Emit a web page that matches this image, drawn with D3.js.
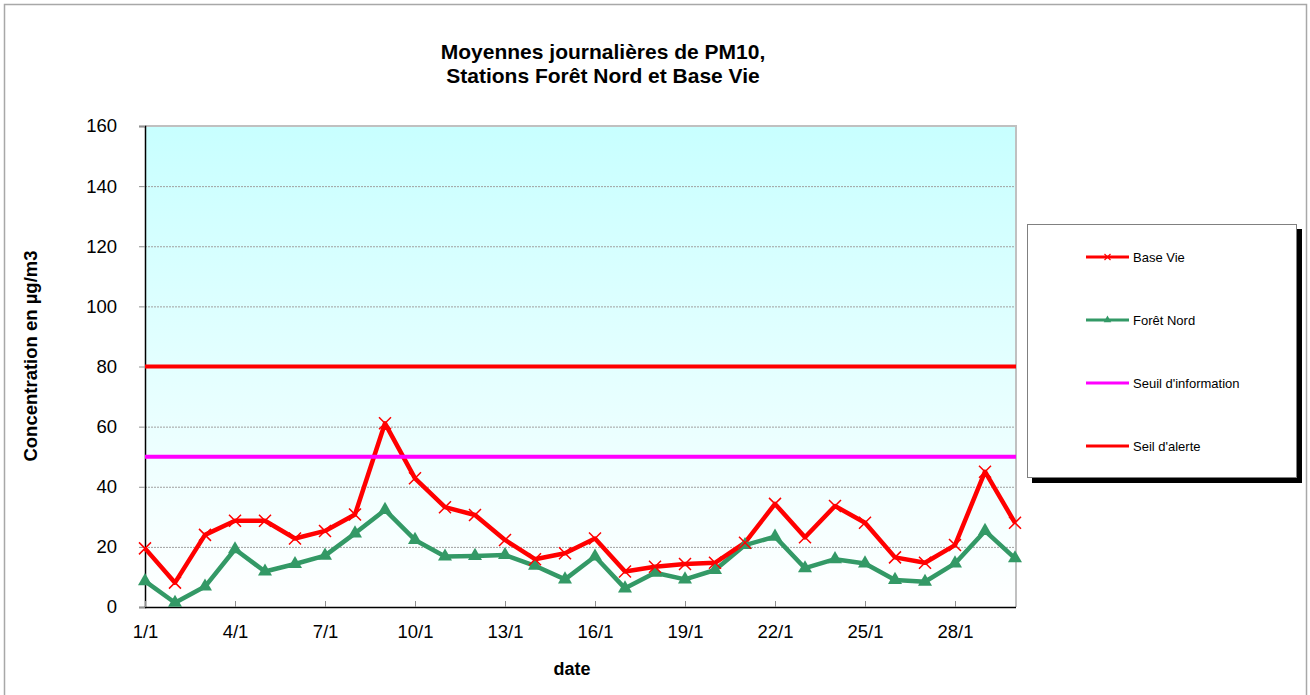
<!DOCTYPE html>
<html>
<head>
<meta charset="utf-8">
<script src="https://cdn.jsdelivr.net/npm/d3@7"></script>
<style>
html,body{margin:0;padding:0;background:#fff;}
svg{display:block;font-family:"Liberation Sans",Arial,sans-serif;}
</style>
</head>
<body>
<svg id="chart" width="1310" height="695"></svg>
<script>
const days = [1,2,3,4,5,6,7,8,9,10,11,12,13,14,15,16,17,18,19,20,21,22,23,24,25,26,27,28,29,30];
const baseVie = [19.5,8.1,24,28.7,28.7,22.8,25.3,30.8,61.1,42.8,33.2,30.6,22.3,15.9,17.9,22.8,11.8,13.4,14.3,14.7,21.4,34.3,23.2,33.6,28,16.5,14.7,20.6,45,28];
const foretNord = [8.6,1.4,6.8,19.2,11.8,14.3,17.1,24.5,32.3,22.3,16.8,17,17.3,13.7,9.2,16.8,6.2,11.4,9.2,12.3,20.6,23.4,12.9,15.9,14.5,9,8.4,14.5,25.3,16.2];
const seuilInformation = 50;
const seuilAlerte = 80;
const xTickDays = [1,4,7,10,13,16,19,22,25,28];
const xTickLabels = ["1/1","4/1","7/1","10/1","13/1","16/1","19/1","22/1","25/1","28/1"];
const yTicks = [0,20,40,60,80,100,120,140,160];
const titleLines = ["Moyennes journalières de PM10,","Stations Forêt Nord et Base Vie"];
const legendLabels = ["Base Vie","Forêt Nord","Seuil d'information","Seil d'alerte"];

const svg = d3.select("#chart");
const L = 145, R = 1016, T = 126, B = 607;
const x = d3.scaleLinear().domain([1,30]).range([145,1015]);
const y = d3.scaleLinear().domain([0,160]).range([B,T]);

const RED = "#FF0000", GREEN = "#339966", MAG = "#FF00FF";

// outer border
svg.append("rect").attr("x",4.5).attr("y",4.5).attr("width",1302).attr("height",710)
  .attr("fill","#fff").attr("stroke","#a8a8a8").attr("stroke-width",1.5);

// gradient
const defs = svg.append("defs");
const grad = defs.append("linearGradient").attr("id","bg").attr("x1",0).attr("y1",0).attr("x2",0).attr("y2",1);
grad.append("stop").attr("offset","0%").attr("stop-color","#C8FFFF");
grad.append("stop").attr("offset","100%").attr("stop-color","#FFFFFF");

svg.append("rect").attr("x",L).attr("y",T).attr("width",R-L).attr("height",B-T).attr("fill","url(#bg)");

// grid lines
svg.append("g").selectAll("line").data(yTicks.filter(v=>v>0 && v<160)).join("line")
  .attr("x1",L).attr("x2",R).attr("y1",d=>y(d)+0.5).attr("y2",d=>y(d)+0.5)
  .attr("stroke","#a0a0a0").attr("stroke-width",1).attr("stroke-dasharray","2,1");

// plot border top/right
svg.append("path").attr("d",`M${L},${T} H${R} V${B}`).attr("fill","none")
  .attr("stroke","#c0c0c0").attr("stroke-width",2);

// y axis
const yAxis = d3.axisLeft(y).tickValues(yTicks).tickSize(6).tickPadding(22).tickFormat(d3.format("d"));
const gy = svg.append("g").attr("transform",`translate(${L},0)`).call(yAxis);
gy.select(".domain").attr("stroke","#000").attr("stroke-width",1.5);
gy.selectAll(".tick line").attr("stroke","#909090");
gy.selectAll(".tick text").attr("font-size","18.5px").attr("fill","#000")
  .attr("font-family","'Liberation Sans',Arial,sans-serif");

// x axis
const xAxis = d3.axisBottom(x).tickValues(xTickDays).tickSize(-6).tickPadding(18)
  .tickFormat((d,i)=>xTickLabels[i]);
const gx = svg.append("g").attr("transform",`translate(0,${B})`).call(xAxis);
gx.select(".domain").attr("d",`M${L},0.5H${R}`).attr("stroke","#000").attr("stroke-width",1.5);
gx.selectAll(".tick line").attr("stroke","#909090");
gx.selectAll(".tick text").attr("font-size","18.5px").attr("fill","#000")
  .attr("font-family","'Liberation Sans',Arial,sans-serif");

// series
const line = d3.line().x((d,i)=>x(days[i])).y(d=>y(d));
svg.append("path").datum(foretNord).attr("d",line).attr("fill","none")
  .attr("stroke",GREEN).attr("stroke-width",4.5).attr("stroke-linejoin","round");
svg.append("path").datum(baseVie).attr("d",line).attr("fill","none")
  .attr("stroke",RED).attr("stroke-width",4.5).attr("stroke-linejoin","round");

// markers
const tri = d3.symbol().type(d3.symbolTriangle).size(85);
svg.append("g").selectAll("path").data(foretNord).join("path")
  .attr("d",tri).attr("transform",(d,i)=>`translate(${x(days[i])},${y(d)})`)
  .attr("fill",GREEN);
const xs = 6;
svg.append("g").selectAll("path").data(baseVie).join("path")
  .attr("d",`M${-xs},${-xs}L${xs},${xs}M${-xs},${xs}L${xs},${-xs}`)
  .attr("transform",(d,i)=>`translate(${x(days[i])},${y(d)})`)
  .attr("stroke",RED).attr("stroke-width",1.5).attr("fill","none");

// thresholds
svg.append("line").attr("x1",L).attr("x2",R).attr("y1",y(seuilInformation)).attr("y2",y(seuilInformation))
  .attr("stroke",MAG).attr("stroke-width",4);
svg.append("line").attr("x1",L).attr("x2",R).attr("y1",y(seuilAlerte)).attr("y2",y(seuilAlerte))
  .attr("stroke",RED).attr("stroke-width",4);

// title
svg.append("g").selectAll("text").data(titleLines).join("text")
  .attr("x",603).attr("y",(d,i)=>59+i*23.5).attr("text-anchor","middle")
  .attr("font-size","21px").attr("font-weight","bold").text(d=>d);

// axis titles
svg.append("text").attr("x",572).attr("y",675).attr("text-anchor","middle")
  .attr("font-size","18px").attr("font-weight","bold").text("date");
svg.append("text").attr("transform","translate(37,356) rotate(-90)").attr("text-anchor","middle")
  .attr("font-size","18.5px").attr("font-weight","bold").text("Concentration en µg/m3");

// legend
const lg = svg.append("g");
lg.append("rect").attr("x",1032).attr("y",229).attr("width",270).attr("height",254).attr("fill","#000");
lg.append("rect").attr("x",1027.5).attr("y",224.5).attr("width",269).attr("height",253)
  .attr("fill","#fff").attr("stroke","#808080").attr("stroke-width",1);
const legY = [257,320,383,446];
const legCol = [RED,GREEN,MAG,RED];
legendLabels.forEach((lab,i)=>{
  lg.append("line").attr("x1",1086).attr("x2",1129).attr("y1",legY[i]).attr("y2",legY[i])
    .attr("stroke",legCol[i]).attr("stroke-width",3);
  lg.append("text").attr("x",1133).attr("y",legY[i]).attr("dy","0.35em")
    .attr("font-size","13px").text(lab);
});
lg.append("path").attr("d","M-3,-3L3,3M-3,3L3,-3").attr("transform",`translate(1107.5,${legY[0]})`)
  .attr("stroke",RED).attr("stroke-width",1.2);
lg.append("path").attr("d",d3.symbol().type(d3.symbolTriangle).size(25)).attr("transform",`translate(1107.5,${legY[1]})`)
  .attr("fill",GREEN);
</script>
</body>
</html>
